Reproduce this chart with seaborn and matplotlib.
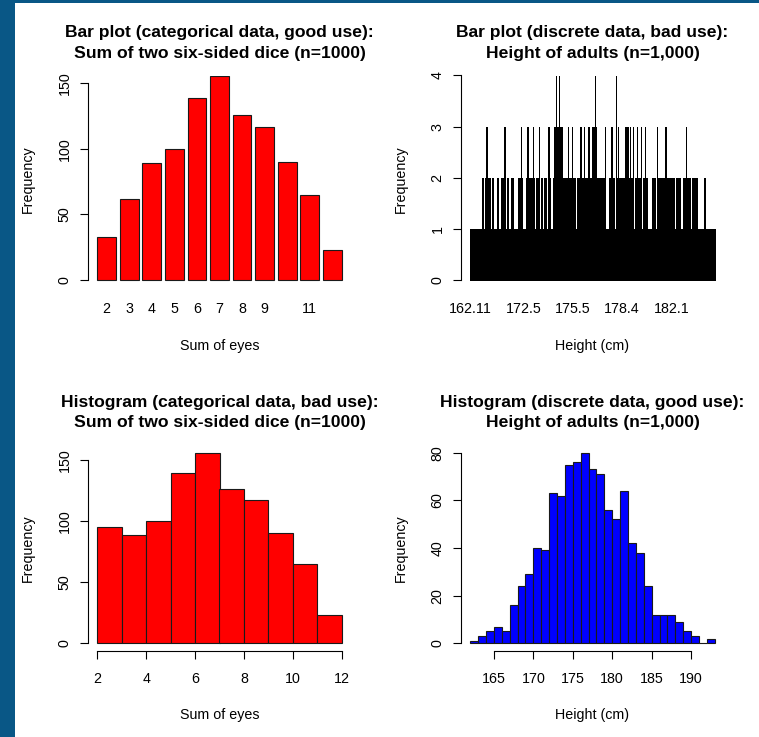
import numpy as np
import pandas as pd
import matplotlib
matplotlib.use("Agg")
import matplotlib.pyplot as plt
from matplotlib.patches import Rectangle
import seaborn as sns

# ---- Sum of two six-sided dice (n = 1000) ----
dice_sums = [2, 3, 4, 5, 6, 7, 8, 9, 10, 11, 12]
dice_counts = [33, 62, 89, 100, 139, 156, 126, 117, 90, 65, 23]
dice_tick_labels = ["2", "3", "4", "5", "6", "7", "8", "9", "", "11", ""]
dice_breaks = [2, 3, 4, 5, 6, 7, 8, 9, 10, 11, 12]

# ---- Height of adults (n = 1,000), 1 cm classes ----
height_breaks = [162, 163, 164, 165, 166, 167, 168, 169, 170, 171, 172, 173,
                 174, 175, 176, 177, 178, 179, 180, 181, 182, 183, 184, 185,
                 186, 187, 188, 189, 190, 191, 192, 193]
height_counts = [1, 3, 5, 7, 5, 16, 24, 29, 40, 39, 63, 62, 75, 76, 80, 73,
                 71, 56, 52, 64, 42, 38, 24, 12, 12, 12, 9, 5, 3, 0, 2]

# How often each distinct recorded height occurs, in ascending order of
# height, one digit per distinct value, grouped by 1 cm class.
height_value_freqs = {
    162: "1",
    163: "111",
    164: "11111",
    165: "1111111",
    166: "11111",
    167: "1111111111 111111",
    168: "1211111121 121131111",
    169: "1212121111 1111211111 11111",
    170: "1111212111 1111121211 1111211311 111",
    171: "1212111111 1111112121 2111111111 1111",
    172: "1111211121 1312121111 1111111121 1131131112 112112111",
    173: "1312111111 1212112111 1311111121 2111111212 112111111",
    174: "1311211111 1111121221 3113141131 1311141311 3113122",
    175: "1211211211 2112131212 1121121131 1211211121 1111121121 12113",
    176: "1131121121 2131121121 1212131131 1211213113 1131314113",
    177: "1211211211 2112112111 2112112131 1111111111 2112111131 121121",
    178: "1111114112 1131112121 1211211211 2112113121 312113121",
    179: "1131121121 1311111211 2111311121 1211121311 1",
    180: "1121211113 1121121111 1111111112 1121121121 11",
    181: "1111311121 1211211211 2112112111 1312112111 211111121",
    182: "1211211211 1111121121 1211212111 1111",
    183: "1111121121 1113111211 1211121111 1",
    184: "1121112111 211121121",
    185: "1111111111 11",
    186: "1111111112 1",
    187: "1111111111 11",
    188: "111111111",
    189: "11111",
    190: "111",
    191: "",
    192: "11",
}
height_tick_labels = ["162.11", "172.5", "175.5", "178.4", "182.1"]
height_tick_bars = [0, 170, 324, 479, 636]

titles = [
    "Bar plot (categorical data, good use):\nSum of two six-sided dice (n=1000)",
    "Bar plot (discrete data, bad use):\nHeight of adults (n=1,000)",
    "Histogram (categorical data, bad use):\nSum of two six-sided dice (n=1000)",
    "Histogram (discrete data, good use):\nHeight of adults (n=1,000)",
]

sns.set_theme(style="ticks")
plt.rcParams["font.family"] = ["Liberation Sans", "DejaVu Sans"]

W, H = 759, 737
fig = plt.figure(figsize=(W / 100, H / 100), dpi=100, facecolor="#095786")
fig.add_artist(Rectangle((15 / W, 0), 1 - 15 / W, 1 - 3 / H,
                         transform=fig.transFigure, facecolor="white",
                         edgecolor="none", zorder=-10))


def panel(x0, x1, y0, y1):
    return fig.add_axes([x0 / W, 1 - y1 / H, (x1 - x0) / W, (y1 - y0) / H])


COL_L, COL_R = (87.5, 351.5), (460.5, 724.5)
ROW_T, ROW_B = (75.5, 282.0), (445.0, 651.0)
ax_tl = panel(*COL_L, *ROW_T)
ax_tr = panel(*COL_R, *ROW_T)
ax_bl = panel(*COL_L, *ROW_B)
ax_br = panel(*COL_R, *ROW_B)

TXT = 10.3
INK = "black"


def r_axes(ax, title, xlabel, yticks, xticks=None, xticklabels=None, axis_line=True):
    ax.set_facecolor("white")
    for s in ("top", "right"):
        ax.spines[s].set_visible(False)
    ax.spines["left"].set_bounds(yticks[0], yticks[-1])
    ax.spines["left"].set_color(INK)
    ax.spines["left"].set_linewidth(0.8)
    ax.set_yticks(yticks)
    ax.set_yticklabels([str(t) for t in yticks], rotation=90, va="center")
    ax.tick_params(axis="y", direction="out", length=6, width=0.8,
                   color=INK, labelsize=TXT, labelcolor=INK, pad=5.5)
    ax.set_xticks(xticks)
    ax.set_xticklabels(xticklabels if xticklabels is not None
                       else [str(t) for t in xticks])
    if axis_line:
        ax.spines["bottom"].set_bounds(xticks[0], xticks[-1])
        ax.spines["bottom"].set_color(INK)
        ax.spines["bottom"].set_linewidth(0.8)
        ax.tick_params(axis="x", direction="out", length=6, width=0.8,
                       color=INK, labelsize=TXT, labelcolor=INK, pad=9.3)
    else:
        ax.spines["bottom"].set_visible(False)
        ax.tick_params(axis="x", length=0, labelsize=TXT, labelcolor=INK, pad=14.5)
    ax.set_ylabel("Frequency", fontsize=TXT, color=INK, va="center")
    ax.yaxis.set_label_coords(-60 / 264, 0.5)
    ax.set_xlabel(xlabel, fontsize=TXT, color=INK, va="center")
    h = ax.get_position().height * H
    ax.xaxis.set_label_coords(0.5, -64 / h)
    ax.set_title(title, fontsize=12.6, fontweight="bold", color=INK,
                 pad=12.9, linespacing=1.45)


# Bar plot of the dice totals
dice_df = pd.DataFrame({"sum": dice_sums, "freq": dice_counts})
sns.barplot(data=dice_df, x="sum", y="freq", color="#ff0000", saturation=1,
            width=1 / 1.2, edgecolor="#1a1a1a", linewidth=0.8, errorbar=None,
            ax=ax_tl)
ax_tl.set_xlim(-0.85, 10.85)
ax_tl.set_ylim(-1.56, 156)
r_axes(ax_tl, titles[0], "Sum of eyes", [0, 50, 100, 150],
       xticks=list(range(len(dice_sums))), xticklabels=dice_tick_labels,
       axis_line=False)

# Bar plot of every distinct height value
freqs = [int(c) for grp in height_value_freqs.values()
         for c in grp.replace(" ", "")]
bars_df = pd.DataFrame({"bar": np.arange(len(freqs)), "freq": freqs})
sns.barplot(data=bars_df, x="bar", y="freq", native_scale=True, color="black",
            saturation=1, width=1 / 1.2, edgecolor="black", linewidth=0.7,
            errorbar=None, ax=ax_tr)
for p in ax_tr.patches:
    p.set_antialiased(False)
n_bars = len(freqs)
span = n_bars - 1 + 1 / 1.2
pad_x = 0.04 * span
ax_tr.set_xlim(-1 / 2.4 - pad_x, n_bars - 1 + 1 / 2.4 + pad_x)
ax_tr.set_ylim(-0.04, 4)
r_axes(ax_tr, titles[1], "Height (cm)", [0, 1, 2, 3, 4],
       xticks=height_tick_bars, xticklabels=height_tick_labels,
       axis_line=False)

# Histogram of the dice totals (classes closed on the right)
dice_obs = pd.Series(np.repeat(dice_sums, dice_counts))
dice_class = (pd.cut(dice_obs, bins=dice_breaks, right=True, include_lowest=True)
              .value_counts(sort=False).to_numpy())
dice_mids = np.array(dice_breaks[:-1]) + 0.5
sns.histplot(x=dice_mids, weights=dice_class, bins=dice_breaks, color="#ff0000",
             edgecolor="#1a1a1a", linewidth=0.8, alpha=1, ax=ax_bl)
ax_bl.set_xlim(1.6, 12.4)
ax_bl.set_ylim(-6.24, 162.24)
r_axes(ax_bl, titles[2], "Sum of eyes", [0, 50, 100, 150],
       xticks=[2, 4, 6, 8, 10, 12])

# Histogram of heights
height_mids = np.array(height_breaks[:-1]) + 0.5
sns.histplot(x=height_mids, weights=height_counts, bins=height_breaks,
             color="#0000ff", edgecolor="#1a1a1a", linewidth=0.8, alpha=1,
             ax=ax_br)
ax_br.set_xlim(160.76, 194.24)
ax_br.set_ylim(-3.2, 83.2)
r_axes(ax_br, titles[3], "Height (cm)", [0, 20, 40, 60, 80],
       xticks=[165, 170, 175, 180, 185, 190])

fig.savefig("out.png", dpi=100, facecolor=fig.get_facecolor())
